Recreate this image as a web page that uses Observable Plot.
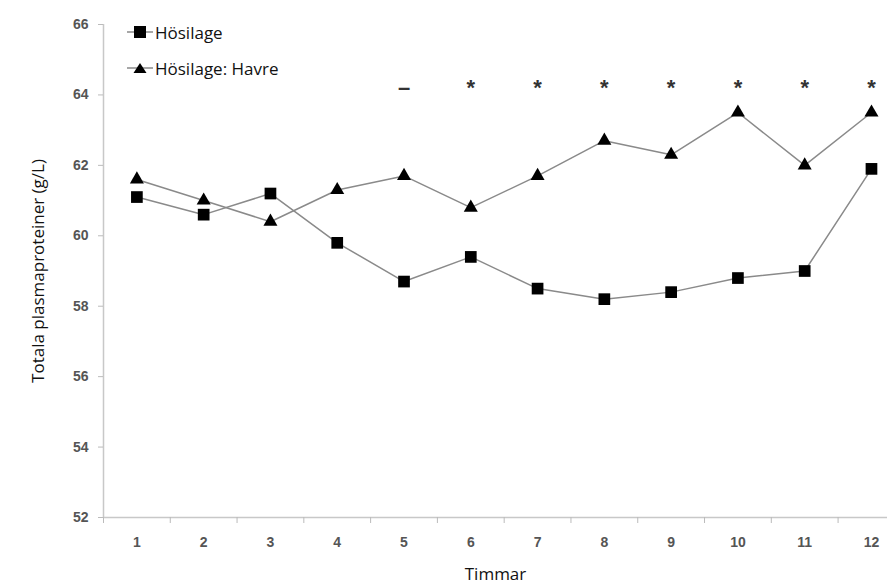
<!DOCTYPE html>
<html>
<head>
<meta charset="utf-8">
<script src="https://cdn.jsdelivr.net/npm/d3@7"></script>
<script src="https://cdn.jsdelivr.net/npm/@observablehq/plot@0.6"></script>
<style>
  body { margin: 0; background: #fff; }
  #wrap { position: relative; width: 887px; height: 588px; }
  #legend { position: absolute; left: 126px; top: 14px; font-family: "Open Sans", sans-serif; font-size: 17px; color: #111; }
  #legend div { display: flex; align-items: center; height: 36px; }
  #legend svg { margin-right: 1px; }
</style>
</head>
<body>
<div id="wrap">
  <div id="chart"></div>
  <div id="legend"></div>
</div>
<script>
const hours = [1, 2, 3, 4, 5, 6, 7, 8, 9, 10, 11, 12];
const hosilage = [61.1, 60.6, 61.2, 59.8, 58.7, 59.4, 58.5, 58.2, 58.4, 58.8, 59.0, 61.9];
const havre = [61.6, 61.0, 60.4, 61.3, 61.7, 60.8, 61.7, 62.7, 62.3, 63.5, 62.0, 63.5];
const sigLabels = ["", "", "", "", "–", "*", "*", "*", "*", "*", "*", "*"];
const seriesNames = ["Hösilage", "Hösilage: Havre"];
const yTicks = [52, 54, 56, 58, 60, 62, 64, 66];

const rowsA = hours.map((h, i) => ({h, v: hosilage[i]}));
const rowsB = hours.map((h, i) => ({h, v: havre[i]}));
const sig = hours.map((h, i) => ({h, s: sigLabels[i]})).filter(d => d.s);

const chart = Plot.plot({
  width: 887,
  height: 588,
  marginLeft: 103,
  marginRight: 0,
  marginTop: 24,
  marginBottom: 71,
  style: {fontFamily: "Liberation Sans, Arial, sans-serif", background: "#fff"},
  x: {domain: [0.5, 12.24]},
  y: {domain: [52, 66]},
  marks: [
    Plot.ruleY([52], {stroke: "#c8c8c8", strokeWidth: 1.5}),
    Plot.ruleX([0.5], {stroke: "#c8c8c8", strokeWidth: 1.5}),
    Plot.axisY({ticks: yTicks, tickSize: 5, stroke: "#bbb", tickPadding: 10, fill: "#555", fontSize: 14, fontWeight: "bold",
      label: "Totala plasmaproteiner (g/L)", labelAnchor: "center", labelArrow: "none", labelOffset: 72}),
    Plot.axisX({ticks: hours.map(h => h - 0.5), tickSize: 6, stroke: "#bbb", text: null, label: null}),
    Plot.axisX({ticks: hours, tickSize: 0, tickPadding: 20, fill: "#555", fontSize: 14, fontWeight: "bold",
      label: "Timmar", labelAnchor: "center", labelArrow: "none", labelOffset: 62}),
    Plot.line(rowsA, {x: "h", y: "v", stroke: "#8a8a8a", strokeWidth: 1.5}),
    Plot.line(rowsB, {x: "h", y: "v", stroke: "#8a8a8a", strokeWidth: 1.5}),
    Plot.dot(rowsA, {x: "h", y: "v", symbol: "square", r: 6.6, fill: "#000", stroke: "none"}),
    Plot.dot(rowsB, {x: "h", y: "v", symbol: "triangle", r: 5.2, fill: "#000", stroke: "none"}),
    Plot.text(sig, {x: "h", y: 64.2, text: "s", fontSize: 22, fontWeight: "bold", fill: "#333"})
  ]
});
chart.querySelectorAll("g[aria-label='y-axis label'] text, g[aria-label='x-axis label'] text").forEach(t => {
  t.setAttribute("font-family", "Open Sans, sans-serif");
  t.setAttribute("font-size", "17");
  t.setAttribute("fill", "#111");
  t.setAttribute("font-weight", "normal");
});
document.getElementById("chart").appendChild(chart);

const legend = document.getElementById("legend");
const symbols = ['<rect x="8" y="2" width="12" height="12" fill="#000"/>', '<path d="M14,3 L20.5,13 L7.5,13 Z" fill="#000"/>'];
seriesNames.forEach((name, i) => {
  const div = document.createElement("div");
  div.innerHTML = `<svg width="28" height="16"><line x1="1" y1="8" x2="27" y2="8" stroke="#8a8a8a" stroke-width="1.5"/>${symbols[i]}</svg><span>${name}</span>`;
  legend.appendChild(div);
});
</script>
</body>
</html>
